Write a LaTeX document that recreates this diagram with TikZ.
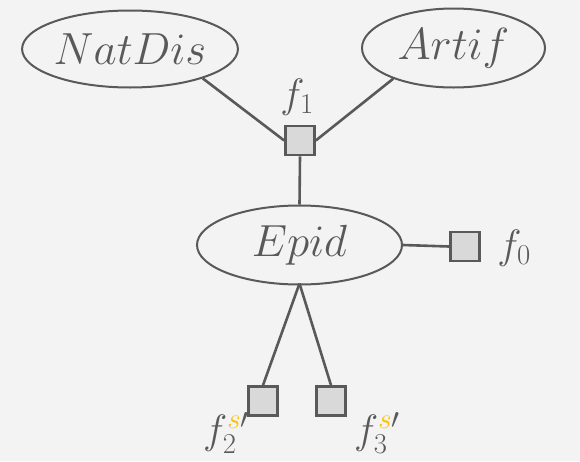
\documentclass[tikz,border=0pt]{standalone}
\usepackage{fix-cm}
\usepackage{xcolor}
\usetikzlibrary{shapes.geometric}
\definecolor{bgc}{HTML}{F3F3F3}
\definecolor{inkc}{HTML}{595959}
\definecolor{boxc}{HTML}{D9D9D9}
\definecolor{goldc}{HTML}{FFC000}
\tikzset{
  var/.style={ellipse, draw=inkc, line width=2pt, fill=bgc, inner sep=0pt,
    text=inkc, font=\fontsize{45}{54}\selectfont},
  fac/.style={rectangle, draw=inkc, line width=2.6pt, fill=boxc,
    minimum size=29pt, inner sep=0pt},
  flabel/.style={text=inkc, inner sep=0pt, font=\fontsize{41}{49}\selectfont},
  link/.style={draw=inkc, line width=2.6pt}
}
\begin{document}
\begin{tikzpicture}[x=1pt, y=-1pt]
  \fill[bgc] (0,0) rectangle (580,461);
  \useasboundingbox (0,0) rectangle (580,461);

  % variables
  \node[var, minimum width=206pt, minimum height=77pt] (natdis) at (130,49) {$NatDis$};
  \node[var, minimum width=183pt, minimum height=79pt] (artif) at (453.5,48) {$Artif$};
  \node[var, minimum width=205pt, minimum height=79pt] (epid) at (299.5,245) {$Epid$};

  % factors
  \node[fac] (f1) at (300,140.5) {};
  \node[fac] (f0) at (465,246.5) {};
  \node[fac] (f2) at (263,401) {};
  \node[fac] (f3) at (331,401) {};

  % factor labels
  \node[flabel] (l1) at (297,97) {$f_1$};
  \node[flabel] (l0) at (514,248) {$f_0$};
  \node[flabel] (l2) at (226,433) {$f_2^{\textcolor{goldc}{s}\prime}$};
  \node[flabel] (l3) at (377,433) {$f_3^{\textcolor{goldc}{s}\prime}$};

  % connectors
  \coordinate (apex) at ([yshift=2pt]epid.south);
  \draw[link] (natdis.-22) -- (f1.west);
  \draw[link] (artif.-153) -- (f1.east);
  \draw[link] (f1.south) -- (epid.north);
  \draw[link] (epid.east) -- (f0.west);
  \draw[link] (apex) -- (f2.north);
  \draw[link] (apex) -- (f3.north);
\end{tikzpicture}
\end{document}
